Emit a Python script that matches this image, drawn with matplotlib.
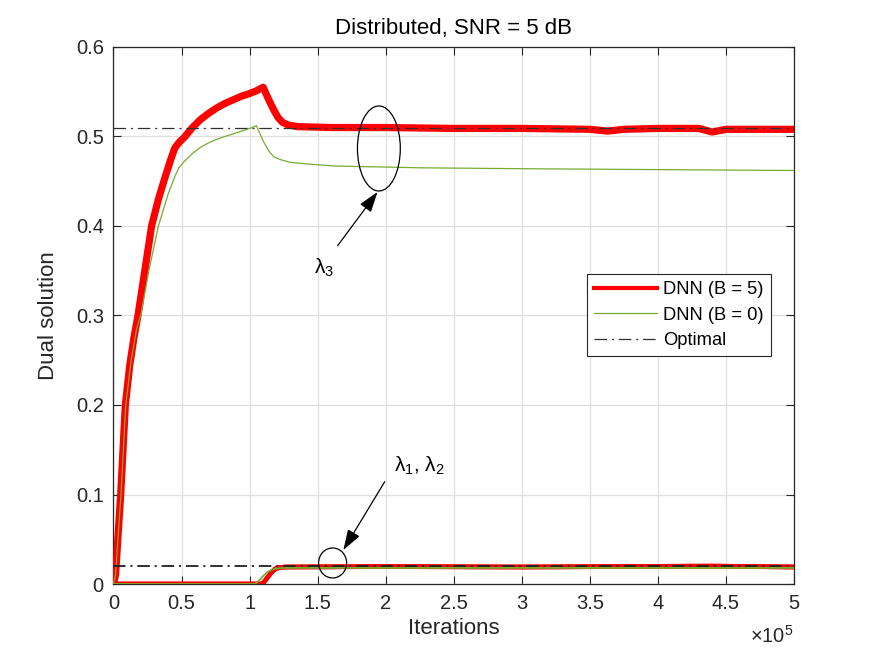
import matplotlib
matplotlib.use("Agg")
import matplotlib.pyplot as plt
from matplotlib.patches import Ellipse
from matplotlib.lines import Line2D
from matplotlib.ticker import FuncFormatter

plt.rcParams['font.family'] = ['Liberation Sans', 'DejaVu Sans']
plt.rcParams['mathtext.fontset'] = 'custom'
plt.rcParams['mathtext.rm'] = 'Liberation Sans'
plt.rcParams['mathtext.it'] = 'Liberation Sans:italic'
plt.rcParams['lines.scale_dashes'] = False

# ---------------- data (iterations in units of 1e5, dual values) ----------------
x_l3_b5 = [0, 0.015, 0.053, 0.087, 0.12, 0.15, 0.18, 0.23, 0.28, 0.33, 0.38, 0.42,
           0.45, 0.48, 0.52, 0.58, 0.64, 0.70, 0.76, 0.82, 0.88, 0.94, 1.00, 1.05,
           1.10, 1.12, 1.15, 1.18, 1.21, 1.24, 1.28, 1.35, 1.6, 2.0, 2.5, 3.0, 3.5,
           3.63, 3.75, 4.0, 4.3, 4.4, 4.5, 5.0]
y_l3_b5 = [0, 0.01, 0.10, 0.20, 0.245, 0.275, 0.30, 0.35, 0.40, 0.43, 0.455, 0.474,
           0.487, 0.493, 0.499, 0.510, 0.519, 0.526, 0.532, 0.537, 0.541, 0.545, 0.548, 0.551,
           0.555, 0.548, 0.538, 0.529, 0.521, 0.516, 0.513, 0.511, 0.510, 0.510, 0.509, 0.509, 0.508,
           0.506, 0.508, 0.509, 0.509, 0.505, 0.508, 0.508]

x_l3_b0 = [0, 0.015, 0.055, 0.09, 0.13, 0.17, 0.20, 0.26, 0.33, 0.40, 0.45, 0.48,
           0.52, 0.58, 0.64, 0.70, 0.76, 0.82, 0.88, 0.94, 1.00, 1.05, 1.07, 1.10,
           1.14, 1.18, 1.23, 1.30, 1.45, 1.62, 2.26, 3.0, 4.0, 5.0]
y_l3_b0 = [0, 0.01, 0.10, 0.20, 0.25, 0.285, 0.30, 0.35, 0.40, 0.435, 0.455, 0.465,
           0.472, 0.481, 0.488, 0.493, 0.497, 0.500, 0.503, 0.506, 0.509, 0.512, 0.505, 0.495,
           0.484, 0.477, 0.474, 0.471, 0.469, 0.467, 0.465, 0.464, 0.463, 0.462]

x_l12_b5 = [0, 1.08, 1.10, 1.13, 1.16, 1.19, 1.22, 1.27, 2.0, 3.0, 4.4, 5.0]
y_l12_b5 = [0, 0, 0.001, 0.007, 0.013, 0.017, 0.0185, 0.019, 0.0195, 0.019, 0.020, 0.019]

x_l12_b0 = [0, 1.04, 1.07, 1.10, 1.13, 1.16, 1.20, 1.26, 3.0, 5.0]
y_l12_b0 = [0, 0, 0.004, 0.009, 0.013, 0.016, 0.0175, 0.018, 0.018, 0.018]

x_opt = [0, 5.0]
opt_l3 = [0.510, 0.510]
opt_l12 = [0.020, 0.020]

xticks = [0, 0.5, 1, 1.5, 2, 2.5, 3, 3.5, 4, 4.5, 5]
yticks = [0, 0.1, 0.2, 0.3, 0.4, 0.5, 0.6]

labels = ['DNN (B = 5)', 'DNN (B = 0)', 'Optimal']
title = 'Distributed, SNR = 5 dB'
scale = 1e5

# ---------------- figure ----------------
red = '#ff0000'
green = '#77ac30'
dk = '#262626'
dashdot = (0, (9, 3.5, 1.5, 3.5))

def sx(xs):
    return [v * scale for v in xs]

fig = plt.figure(figsize=(8.75, 6.57), dpi=100)
ax = fig.add_axes([0.1297, 0.1111, 0.7777, 0.8174])

ax.plot(sx(x_l3_b5), y_l3_b5, color=red, lw=5.2, solid_joinstyle='round',
        solid_capstyle='round', zorder=3)
ax.plot(sx(x_l12_b5), y_l12_b5, color=red, lw=3.4, solid_joinstyle='round', zorder=3)
ax.plot(sx(x_l12_b5), y_l12_b5, color=red, lw=3.4, solid_joinstyle='round', zorder=3)
ax.plot(sx(x_l3_b0), y_l3_b0, color=green, lw=0.9, zorder=4)
ax.plot(sx(x_l12_b0), y_l12_b0, color=green, lw=1.3, zorder=4)
ax.plot(sx(x_opt), opt_l3, color='#303030', lw=0.9, ls=dashdot, zorder=5)
ax.plot(sx(x_opt), opt_l12, color='#202020', lw=1.3, ls=dashdot, zorder=5)

ax.set_xlim(0, 5 * scale)
ax.set_ylim(0, 0.6)
ax.set_xticks(sx(xticks))
ax.set_yticks(yticks)
ax.xaxis.set_major_formatter(FuncFormatter(lambda v, p: '%g' % (v / scale)))
ax.yaxis.set_major_formatter(FuncFormatter(lambda v, p: '%g' % round(v, 2)))
ax.tick_params(direction='in', length=6, width=0.8, colors=dk, labelsize=14.5,
               top=True, right=True, pad=7)
for s in ax.spines.values():
    s.set_color(dk)
    s.set_linewidth(0.9)
ax.grid(True, color='#dfdfdf', lw=0.9)
ax.set_axisbelow(True)

ax.set_title(title, fontsize=16, color='black', pad=9)
ax.set_xlabel('Iterations', fontsize=16, color=dk, labelpad=4)
ax.set_ylabel('Dual solution', fontsize=16, color=dk, labelpad=12)
ax.text(1.0, -0.077, r'$\times\mathregular{10^{5}}$', transform=ax.transAxes,
        ha='right', va='top', fontsize=14.5, color=dk)

# annotations
ax.add_patch(Ellipse((1.95 * scale, 0.4866), 0.315 * scale, 0.095, fill=False,
                     ec='black', lw=0.9, zorder=6))
ax.add_patch(Ellipse((1.61 * scale, 0.0235), 0.206 * scale, 0.0335, fill=False,
                     ec='black', lw=0.9, zorder=6))
ap = dict(arrowstyle='-|>,head_length=0.9,head_width=0.3', color='black', lw=0.9,
          shrinkA=0, shrinkB=0, mutation_scale=14)
ax.annotate('', xy=(1.94 * scale, 0.438), xytext=(1.647 * scale, 0.378), arrowprops=ap, zorder=7)
ax.annotate('', xy=(1.689 * scale, 0.038), xytext=(1.993 * scale, 0.1143), arrowprops=ap, zorder=7)
ax.text(1.47 * scale, 0.353, r'$\mathrm{\lambda}_3$', fontsize=15, ha='left', va='center')
ax.text(2.06 * scale, 0.132, r'$\mathrm{\lambda}_1$, $\mathrm{\lambda}_2$', fontsize=15,
        ha='left', va='center')

handles = [Line2D([], [], color=red, lw=3.0),
           Line2D([], [], color=green, lw=0.9),
           Line2D([], [], color='#303030', lw=0.9, ls=dashdot)]
leg = ax.legend(handles, labels, loc='upper left', bbox_to_anchor=(0.696, 0.577),
                borderaxespad=0, fontsize=13.2, fancybox=False, framealpha=1,
                edgecolor=dk, handlelength=3.4, handletextpad=0.35,
                borderpad=0.4, labelspacing=0.45)
leg.get_frame().set_linewidth(0.8)

fig.savefig('out.png', dpi=100)
